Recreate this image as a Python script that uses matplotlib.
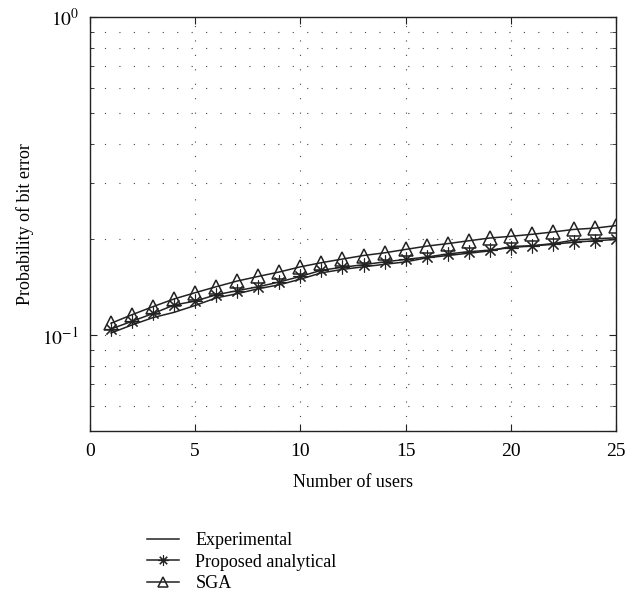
import matplotlib
matplotlib.use("Agg")
import matplotlib.pyplot as plt
from matplotlib.ticker import NullFormatter, FixedLocator

plt.rcParams['font.family'] = ['Liberation Serif', 'DejaVu Serif']
plt.rcParams['mathtext.fontset'] = 'stix'

users = list(range(1, 26))
experimental = [0.1016, 0.1077, 0.1136, 0.118, 0.124, 0.131, 0.135, 0.140, 0.144, 0.150,
                0.157, 0.161, 0.164, 0.167, 0.170, 0.175, 0.178, 0.181, 0.184, 0.190,
                0.191, 0.194, 0.199, 0.201, 0.2022]
proposed = [0.1046, 0.1106, 0.117, 0.1244, 0.128, 0.134, 0.138, 0.142, 0.147, 0.153,
            0.160, 0.1635, 0.1665, 0.170, 0.173, 0.176, 0.180, 0.183, 0.185, 0.1885,
            0.1907, 0.193, 0.196, 0.198, 0.1999]
sga = [0.109, 0.116, 0.123, 0.130, 0.136, 0.142, 0.148, 0.153, 0.158, 0.164,
       0.169, 0.1735, 0.178, 0.1815, 0.186, 0.1905, 0.194, 0.198, 0.202, 0.2045,
       0.2075, 0.211, 0.215, 0.217, 0.221]
xticks = [0, 5, 10, 15, 20, 25]

fig = plt.figure(figsize=(6.4, 5.92), dpi=100)
ax = fig.add_axes([0.1406, 0.272, 0.8219, 0.6993])

c = '#222222'
ax.plot(users, experimental, '-', color=c, lw=1.1, label='Experimental')
ax.plot(users, proposed, '-', color=c, lw=1.1, marker=(8, 2, 0), markersize=10,
        markeredgewidth=0.8, label='Proposed analytical')
ax.plot(users, sga, '-', color=c, lw=1.1, marker='^', markersize=10,
        markerfacecolor='none', markeredgewidth=1.1, label='SGA')

ax.set_yscale('log')
ax.set_xlim(0, 25)
ax.set_ylim(0.05, 1)
ax.set_xticks(xticks)
ax.set_xticklabels([str(t) for t in xticks])
ax.yaxis.set_major_locator(FixedLocator([0.1, 1.0]))
ax.set_yticklabels([r'$10^{-1}$', r'$10^{0}$'])
ax.yaxis.set_minor_locator(FixedLocator([0.05, 0.06, 0.07, 0.08, 0.09, 0.2, 0.3, 0.4, 0.5, 0.6, 0.7, 0.8, 0.9]))
ax.yaxis.set_minor_formatter(NullFormatter())

ax.tick_params(which='both', direction='in', top=True, right=True, labelsize=14, color=c)
ax.tick_params(which='major', length=5)
ax.tick_params(which='minor', length=3)
ax.tick_params(axis='x', pad=9)
ax.tick_params(axis='y', pad=8)

gridstyle = dict(color='#444444', linestyle=(0, (1, 12)), linewidth=0.8)
ax.grid(True, which='major', axis='x', **gridstyle)
ax.grid(True, which='both', axis='y', **gridstyle)

for s in ax.spines.values():
    s.set_color(c)
    s.set_linewidth(1.0)

ax.set_xlabel('Number of users', fontsize=13, labelpad=10)
ax.set_ylabel('Probability of bit error', fontsize=13, labelpad=6)

fig.legend(*ax.get_legend_handles_labels(), loc='upper left',
           bbox_to_anchor=(0.229, 0.101), frameon=False, fontsize=13,
           handlelength=1.8, handletextpad=0.9, labelspacing=0.25, borderaxespad=0,
           borderpad=0, markerscale=0.75)

fig.savefig('out.png', dpi=100)
